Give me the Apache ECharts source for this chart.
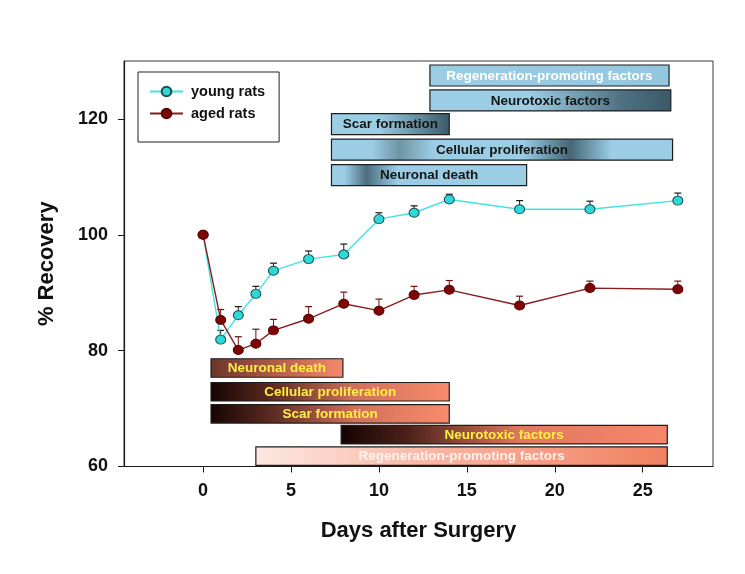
<!DOCTYPE html>
<html><head><meta charset="utf-8">
<script src="https://cdn.jsdelivr.net/npm/echarts@6/dist/echarts.min.js"></script>
<style>html,body{margin:0;padding:0;background:#fff}#c{width:745px;height:574px}</style>
</head><body><div id="c"></div>
<script>
// ---------------- data ----------------
const days = [0, 1, 2, 3, 4, 6, 8, 10, 12, 14, 18, 22, 27];
const young = [100, 81.9, 86.1, 89.8, 93.8, 95.8, 96.6, 102.7, 103.8, 106.1, 104.4, 104.4, 105.9];
const youngErr = [0, 1.6, 1.5, 1.3, 1.3, 1.4, 1.8, 1.1, 1.2, 0.9, 1.5, 1.4, 1.3];
const aged = [100, 85.3, 80.1, 81.2, 83.5, 85.5, 88.1, 86.9, 89.6, 90.5, 87.8, 90.8, 90.6];
const agedErr = [0, 1.8, 2.3, 2.5, 1.9, 2.1, 2.0, 2.0, 1.5, 1.6, 1.6, 1.2, 1.4];
const xTicks = [0, 5, 10, 15, 20, 25];
const yTicks = [60, 80, 100, 120];

// phase bars (young rats, upper set): label, start day, end day, row level
const youngPhaseLabels = ['Regeneration-promoting factors', 'Neurotoxic factors', 'Scar formation', 'Cellular proliferation', 'Neuronal death'];
const youngPhaseStart = [12.9, 12.9, 7.3, 7.3, 7.3];
const youngPhaseEnd = [26.5, 26.6, 14.0, 26.7, 18.4];
const youngPhaseLevel = [127.5, 123.2, 119.1, 114.7, 110.3];
// phase bars (aged rats, lower set)
const agedPhaseLabels = ['Neuronal death', 'Cellular proliferation', 'Scar formation', 'Neurotoxic factors', 'Regeneration-promoting factors'];
const agedPhaseStart = [0.45, 0.45, 0.45, 7.85, 3.0];
const agedPhaseEnd = [7.95, 14.0, 14.0, 26.4, 26.4];
const agedPhaseLevel = [77.0, 72.9, 69.1, 65.5, 61.8];

// ---------------- styles ----------------
const FONT = '"Liberation Sans", Arial, sans-serif';
const LB = '#9BCDE5', DB = '#3B5A68';
const youngBarStops = [
  [[0, LB], [1, '#93C6DF']],
  [[0, LB], [0.42, LB], [0.8, '#4E7080'], [1, DB]],
  [[0, LB], [0.4, LB], [1, DB]],
  [[0, LB], [0.12, LB], [0.2, '#6F94A6'], [0.3, LB], [0.56, LB], [0.7, '#456676'], [0.82, LB], [1, LB]],
  [[0, LB], [0.07, LB], [0.18, '#4C6E7E'], [0.34, LB], [1, LB]]
];
const youngBarText = ['#FFFFFF', '#151515', '#151515', '#151515', '#151515'];
const agedBarStops = [
  [[0, '#6A3529'], [0.5, '#B45E48'], [1, '#F68A6C']],
  [[0, '#170404'], [0.25, '#5A2A20'], [0.6, '#D0705A'], [1, '#F98B6C']],
  [[0, '#170404'], [0.25, '#5A2A20'], [0.6, '#D0705A'], [1, '#F98B6C']],
  [[0, '#150303'], [0.2, '#4A2018'], [0.55, '#E07860'], [1, '#F6876A']],
  [[0, '#FDE8E2'], [0.45, '#F9B4A0'], [1, '#F08060']]
];
const agedBarText = ['#FFF040', '#FFF040', '#FFF040', '#FFF040', '#FFF1EC'];

function makeGrad(stops) {
  return new echarts.graphic.LinearGradient(0, 0, 1, 0,
    stops.map(s => ({ offset: s[0], color: s[1] })));
}

function phaseRender(labels, stopsArr, textColors, hPx, fontSize) {
  return function (params, api) {
    const i = params.dataIndex;
    const p0 = api.coord([api.value(0), api.value(2)]);
    const p1 = api.coord([api.value(1), api.value(2)]);
    const x = p0[0], w = p1[0] - p0[0], y = p0[1] - hPx / 2;
    return {
      type: 'group',
      children: [
        { type: 'rect', shape: { x: x, y: y, width: w, height: hPx },
          style: { fill: makeGrad(stopsArr[i]), stroke: '#1E1E1E', lineWidth: 1.2 } },
        { type: 'text', x: x + w / 2, y: p0[1] + 0.5,
          style: { text: labels[i], align: 'center', verticalAlign: 'middle',
            fill: textColors[i], font: 'bold ' + fontSize + 'px ' + FONT } }
      ]
    };
  };
}

function errRender(color) {
  return function (params, api) {
    const base = api.coord([api.value(0), api.value(1)]);
    const top = api.coord([api.value(0), api.value(1) + api.value(2)]);
    const cw = 3.5;
    return {
      type: 'group',
      children: [
        { type: 'line', shape: { x1: base[0], y1: base[1], x2: top[0], y2: top[1] },
          style: { stroke: color, lineWidth: 1 } },
        { type: 'line', shape: { x1: top[0] - cw, y1: top[1], x2: top[0] + cw, y2: top[1] },
          style: { stroke: color, lineWidth: 1.2 } }
      ]
    };
  };
}

const youngPhaseData = youngPhaseLabels.map((l, i) => [youngPhaseStart[i], youngPhaseEnd[i], youngPhaseLevel[i]]);
const agedPhaseData = agedPhaseLabels.map((l, i) => [agedPhaseStart[i], agedPhaseEnd[i], agedPhaseLevel[i]]);
const youngLine = days.map((d, i) => [d, young[i]]);
const agedLine = days.map((d, i) => [d, aged[i]]);
const youngErrData = days.map((d, i) => [d, young[i], youngErr[i]]).filter(r => r[2] > 0);
const agedErrData = days.map((d, i) => [d, aged[i], agedErr[i]]).filter(r => r[2] > 0);

const chart = echarts.init(document.getElementById('c'), null, { renderer: 'canvas' });
chart.setOption({
  animation: false,
  backgroundColor: '#fff',
  textStyle: { fontFamily: FONT },
  grid: { left: 124, right: 32, top: 61, bottom: 107.5, show: true, borderColor: '#3a3a3a', borderWidth: 1, backgroundColor: 'transparent' },
  legend: {
    data: ['young rats', 'aged rats'],
    orient: 'vertical', left: 138, top: 72,
    itemWidth: 33, itemHeight: 12, itemGap: 7,
    padding: [12, 14, 21, 11],
    borderColor: '#222', borderWidth: 1,
    textStyle: { fontFamily: FONT, fontWeight: 'bold', fontSize: 14.5, color: '#111', padding: [0, 0, 0, 3] }
  },
  xAxis: {
    type: 'value', min: -4.5, max: 29,
    name: 'Days after Surgery', nameLocation: 'middle', nameGap: 53,
    nameTextStyle: { fontFamily: FONT, fontWeight: 'bold', fontSize: 22, color: '#111' },
    axisLine: { show: true, onZero: false, lineStyle: { color: '#1a1a1a', width: 1.2 } },
    axisTick: { show: true, inside: false, length: 6, lineStyle: { color: '#1a1a1a' }, customValues: xTicks },
    axisLabel: { customValues: xTicks, margin: 16, fontFamily: FONT, fontWeight: 'bold', fontSize: 18, color: '#111' },
    splitLine: { show: false }
  },
  yAxis: {
    type: 'value', min: 60, max: 130,
    name: '% Recovery', nameLocation: 'middle', nameGap: 66,
    nameTextStyle: { fontFamily: FONT, fontWeight: 'bold', fontSize: 22, color: '#111' },
    axisLine: { show: true, onZero: false, lineStyle: { color: '#1a1a1a', width: 1.2 } },
    axisTick: { show: true, inside: false, length: 6, lineStyle: { color: '#1a1a1a' }, customValues: yTicks },
    axisLabel: { customValues: yTicks, margin: 16, fontFamily: FONT, fontWeight: 'bold', fontSize: 18, color: '#111' },
    splitLine: { show: false }
  },
  series: [
    { type: 'custom', name: 'youngPhases', data: youngPhaseData, clip: false, z: 2,
      renderItem: phaseRender(youngPhaseLabels, youngBarStops, youngBarText, 21, 13.5) },
    { type: 'custom', name: 'agedPhases', data: agedPhaseData, clip: false, z: 2,
      renderItem: phaseRender(agedPhaseLabels, agedBarStops, agedBarText, 18.5, 13.5) },
    { type: 'custom', name: 'youngErr', data: youngErrData, z: 3, renderItem: errRender('#1a1a1a') },
    { type: 'custom', name: 'agedErr', data: agedErrData, z: 3, renderItem: errRender('#6a1010') },
    { type: 'line', name: 'young rats', data: youngLine, z: 5,
      lineStyle: { color: '#3FE3E3', width: 1.4 },
      itemStyle: { color: '#2CD9D9', borderColor: '#1E4C4C', borderWidth: 1 },
      symbol: 'circle', symbolSize: [10, 9], showAllSymbol: true },
    { type: 'line', name: 'aged rats', data: agedLine, z: 6,
      lineStyle: { color: '#8A1C1C', width: 1.4 },
      itemStyle: { color: '#7E0505', borderColor: '#5A0000', borderWidth: 1 },
      symbol: 'circle', symbolSize: [10, 9], showAllSymbol: true }
  ]
});
</script>
</body></html>
